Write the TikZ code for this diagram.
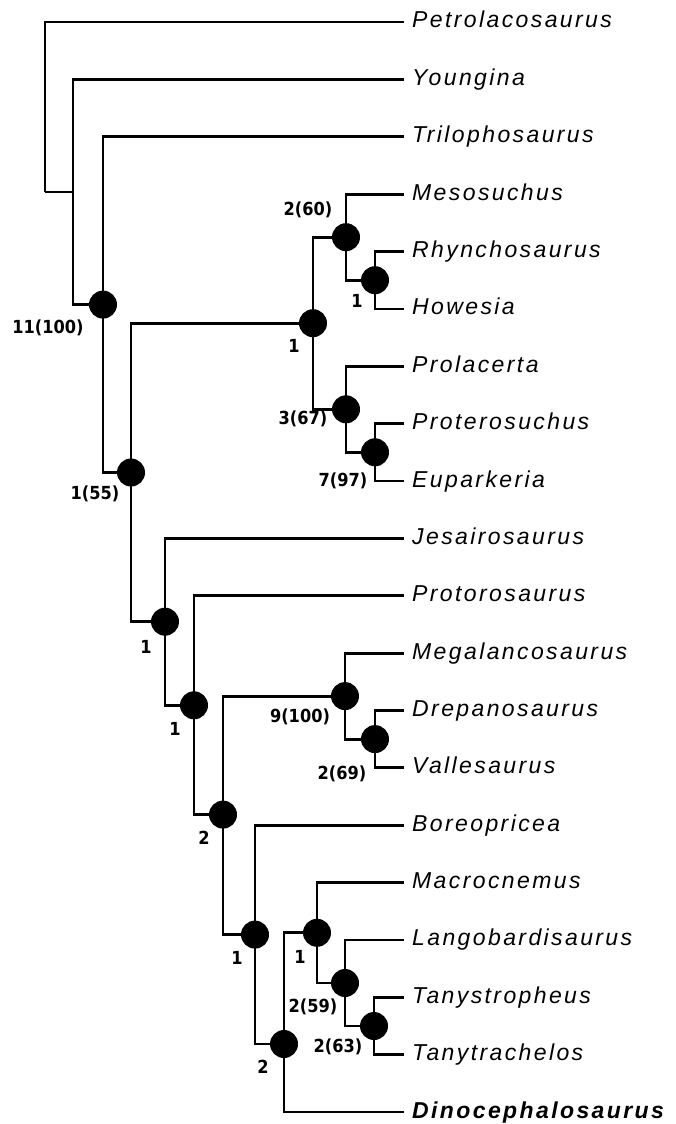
\documentclass[tikz,border=0pt]{standalone}
\usepackage{fontspec}
\newfontfamily\taxfont{Liberation Sans}[LetterSpace=10.4]
\newfontfamily\lblfont{DejaVu Sans}[FakeStretch=0.9]
\begin{document}
\begin{tikzpicture}[x=1pt,y=-1pt,
  br/.style={line width=2.8pt},
  dot/.style={circle, fill=black, draw=none, inner sep=0pt, minimum size=28pt},
  taxon/.style={anchor=base west, inner sep=0pt, font=\taxfont\itshape\fontsize{23}{27}\selectfont},
  supp/.style={inner sep=0pt, font=\lblfont\bfseries\fontsize{18}{21}\selectfont}]
\useasboundingbox (0,0) rectangle (675,1124);
% leaf ends
\foreach \i/\y in {0/22.0,1/79.4,2/136.7,3/194.1,4/251.5,5/308.9,6/366.2,7/423.6,8/481.0,9/538.3,10/595.7,11/653.1,12/710.4,13/767.8,14/825.2,15/882.6,16/939.9,17/997.3,18/1054.7,19/1112.0}
  \coordinate (e\i) at (404,\y);
% internal positions
\coordinate (R) at (45,192);
\coordinate (A) at (73,192);
\coordinate (n11) at (103,304.6);
\coordinate (n155) at (131,472.5);
\coordinate (nmp) at (313,323.2);
\coordinate (n260) at (346,237.2);
\coordinate (nrh) at (375,280.2);
\coordinate (n367) at (346,409.3);
\coordinate (n797) at (375,452.3);
\coordinate (nj) at (165,621.7);
\coordinate (np) at (194,705.3);
\coordinate (n2a) at (223,814.6);
\coordinate (n9) at (345,696.1);
\coordinate (n269) at (375,739.1);
\coordinate (nb) at (255,934.6);
\coordinate (nd) at (284,1044);
\coordinate (nm) at (317,932.8);
\coordinate (n259) at (345,983);
\coordinate (n263) at (374,1026);
% branches
\draw[br] (R) |- (e0);
\draw[br] (R) |- (A);
\draw[br] (A) |- (e1);
\draw[br] (A) |- (n11);
\draw[br] (n11) |- (e2);
\draw[br] (n11) |- (n155);
\draw[br] (n155) |- (nmp);
\draw[br] (n155) |- (nj);
\draw[br] (nmp) |- (n260);
\draw[br] (nmp) |- (n367);
\draw[br] (n260) |- (e3);
\draw[br] (n260) |- (nrh);
\draw[br] (nrh) |- (e4);
\draw[br] (nrh) |- (e5);
\draw[br] (n367) |- (e6);
\draw[br] (n367) |- (n797);
\draw[br] (n797) |- (e7);
\draw[br] (n797) |- (e8);
\draw[br] (nj) |- (e9);
\draw[br] (nj) |- (np);
\draw[br] (np) |- (e10);
\draw[br] (np) |- (n2a);
\draw[br] (n2a) |- (n9);
\draw[br] (n2a) |- (nb);
\draw[br] (n9) |- (e11);
\draw[br] (n9) |- (n269);
\draw[br] (n269) |- (e12);
\draw[br] (n269) |- (e13);
\draw[br] (nb) |- (e14);
\draw[br] (nb) |- (nd);
\draw[br] (nd) |- (nm);
\draw[br] (nd) |- (e19);
\draw[br] (nm) |- (e15);
\draw[br] (nm) |- (n259);
\draw[br] (n259) |- (e16);
\draw[br] (n259) |- (n263);
\draw[br] (n263) |- (e17);
\draw[br] (n263) |- (e18);
% dots
\foreach \n in {n11,n155,nmp,n260,nrh,n367,n797,nj,np,n2a,n9,n269,nb,nd,nm,n259,n263}
  \node[dot] (c\n) at (\n) {};
% support labels
\node[supp] (s1) at (48,328) {11(100)};
\node[supp] (s2) at (95,494) {1(55)};
\node[supp] (s3) at (294,346) {1};
\node[supp] (s4) at (308,210) {2(60)};
\node[supp] (s5) at (357,301) {1};
\node[supp] (s6) at (303,419) {3(67)};
\node[supp] (s7) at (343,481) {7(97)};
\node[supp] (s8) at (146,647) {1};
\node[supp] (s9) at (175,729) {1};
\node[supp] (s10) at (300,717) {9(100)};
\node[supp] (s11) at (342,774) {2(69)};
\node[supp] (s12) at (204,838) {2};
\node[supp] (s13) at (237,958) {1};
\node[supp] (s14) at (300,957) {1};
\node[supp] (s15) at (313,1007) {2(59)};
\node[supp] (s16) at (338,1047) {2(63)};
\node[supp] (s17) at (263,1067) {2};
% taxa
\node[taxon] (t0) at (412,28.0) {Petrolacosaurus};
\node[taxon] (t1) at (412,85.4) {Youngina};
\node[taxon] (t2) at (412,142.7) {Trilophosaurus};
\node[taxon] (t3) at (412,200.1) {Mesosuchus};
\node[taxon] (t4) at (412,257.5) {Rhynchosaurus};
\node[taxon] (t5) at (412,314.9) {Howesia};
\node[taxon] (t6) at (412,372.2) {Prolacerta};
\node[taxon] (t7) at (412,429.6) {Proterosuchus};
\node[taxon] (t8) at (412,487.0) {Euparkeria};
\node[taxon] (t9) at (412,544.3) {Jesairosaurus};
\node[taxon] (t10) at (412,601.7) {Protorosaurus};
\node[taxon] (t11) at (412,659.1) {Megalancosaurus};
\node[taxon] (t12) at (412,716.4) {Drepanosaurus};
\node[taxon] (t13) at (412,773.8) {Vallesaurus};
\node[taxon] (t14) at (412,831.2) {Boreopricea};
\node[taxon] (t15) at (412,888.6) {Macrocnemus};
\node[taxon] (t16) at (412,945.9) {Langobardisaurus};
\node[taxon] (t17) at (412,1003.3) {Tanystropheus};
\node[taxon] (t18) at (412,1060.7) {Tanytrachelos};
\node[taxon] (t19) at (412,1118.0) {\bfseries Dinocephalosaurus};
\end{tikzpicture}
\end{document}
